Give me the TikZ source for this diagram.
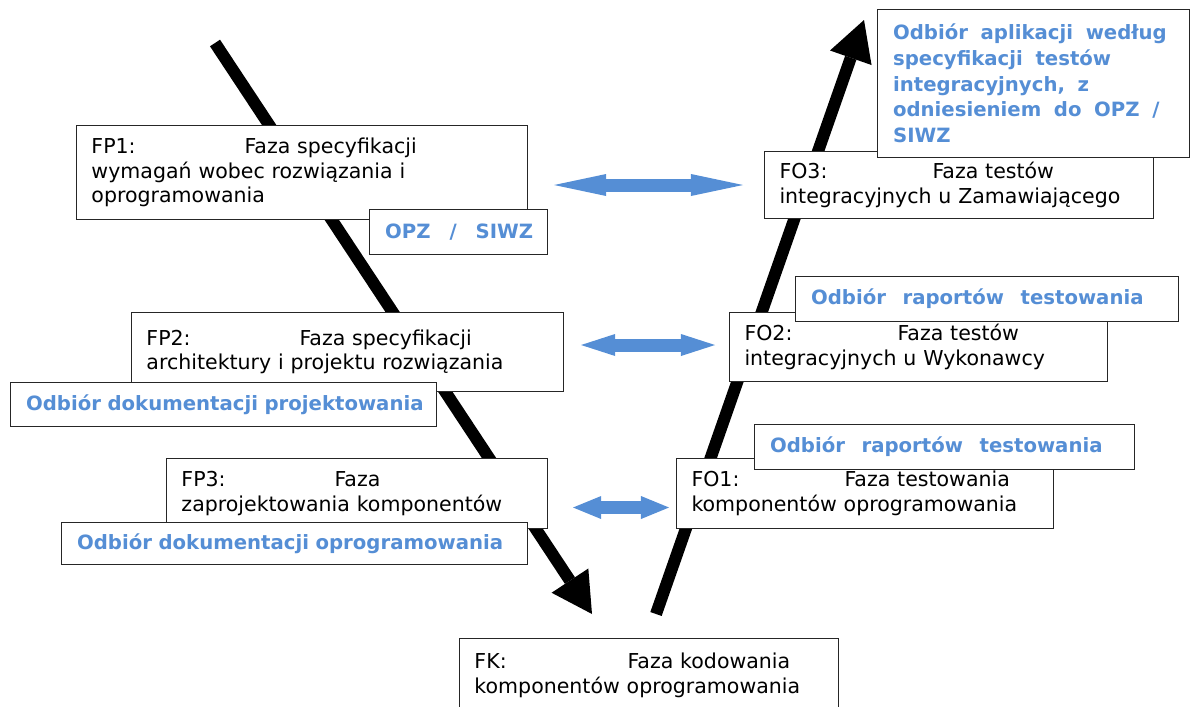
\documentclass[tikz,border=0pt]{standalone}
\usepackage{fontspec}
\setmainfont{DejaVu Sans}
\usetikzlibrary{arrows.meta, positioning}
\definecolor{officeblue}{HTML}{558ED5}
\definecolor{framegrey}{HTML}{262626}
\newcommand{\phasetag}[1]{\makebox[3.825cm][l]{#1}}
\newcommand{\wordgap}[1][11.8pt]{\hspace*{#1}}

\begin{document}
\begin{tikzpicture}[x=0.025cm, y=-0.025cm]
% Define styles
\tikzstyle{phase} = [rectangle, draw=framegrey, line width=0.7pt, fill=white, anchor=north west, align=left, inner xsep=0.375cm, inner ysep=0pt, font=\fontsize{14.6}{17.4}\selectfont]
\tikzstyle{receipt} = [rectangle, draw=framegrey, line width=0.7pt, fill=white, anchor=north west, align=left, inner xsep=0.39cm, inner ysep=0pt, text=officeblue, font=\fontsize{14}{18.3}\selectfont\bfseries]
\tikzstyle{flow} = [line width=0.3cm, -{Triangle[length=1.0cm, width=1.1cm, line width=0pt]}]
\tikzstyle{link} = [draw=officeblue, line width=0.325cm]

\useasboundingbox (0,0) rectangle (1193,706);

% Flow of the V
\coordinate (downstart) at (215,43);
\coordinate (downend) at (592,614);
\coordinate (upstart) at (656,614);
\coordinate (upend) at (864,20);
\draw[flow] (downstart) -- (downend);
\draw[flow] (upstart) -- (upend);

% Phases
\node (fp1) [phase, text width=10.525cm, minimum height=2.35cm] at (76,125) {\phasetag{FP1:}Faza specyfikacji\\wymagań wobec rozwiązania i\\oprogramowania};
\node (fp2) [phase, text width=10.05cm, minimum height=1.975cm] at (131,312) {\phasetag{FP2:}Faza specyfikacji\\architektury i projektu rozwiązania};
\node (fp3) [phase, text width=8.775cm, minimum height=1.75cm] at (166,458) {\phasetag{FP3:}Faza\\zaprojektowania komponentów};
\node (fk) [phase, text width=8.725cm, minimum height=1.85cm] at (459,638) {\phasetag{FK:}Faza kodowania\\komponentów oprogramowania};
\node (fo1) [phase, text width=8.675cm, minimum height=1.75cm] at (676,458) {\phasetag{FO1:}Faza testowania\\komponentów oprogramowania};
\node (fo2) [phase, text width=8.7cm, minimum height=1.725cm] at (729,312) {\phasetag{FO2:}Faza testów\\integracyjnych u Wykonawcy};
\node (fo3) [phase, text width=8.975cm, minimum height=1.675cm] at (764,151) {\phasetag{FO3:}Faza testów\\integracyjnych u Zamawiającego};

% Receipts
\node (opz) [receipt, text width=3.67cm, minimum height=1.125cm] at (369,209) {OPZ\wordgap[13.5pt]/\wordgap[13.5pt]SIWZ};
\node (projdoc) [receipt, text width=9.87cm, minimum height=1.1cm] at (10,382) {\mbox{Odbiór dokumentacji projektowania}};
\node (progdoc) [receipt, text width=10.87cm, minimum height=1.05cm] at (61,522) {Odbiór dokumentacji oprogramowania};
\node (reports1) [receipt, text width=8.72cm, minimum height=1.125cm] at (754,424) {Odbiór\wordgap raportów\wordgap testowania};
\node (reports2) [receipt, text width=8.795cm, minimum height=1.125cm] at (795,276) {Odbiór\wordgap raportów\wordgap testowania};
\node (acceptance) [receipt, text width=7.02cm, minimum height=3.7cm] at (877,9) {Odbiór\wordgap[9pt]aplikacji\wordgap[9pt]według\\specyfikacji\wordgap[9pt]testów\\integracyjnych,\wordgap[9pt]z\\odniesieniem\wordgap[9pt]do\wordgap[9pt]OPZ\wordgap[9pt]/\\SIWZ};

% Links between the two arms
\draw[link, {Triangle[length=1.3cm, width=0.55cm, line width=0pt]}-{Triangle[length=1.3cm, width=0.55cm, line width=0pt]}, shorten <=0.65cm, shorten >=0.525cm] (fp1.east |- fo3.west) -- (fo3.west);
\draw[link, {Triangle[length=0.85cm, width=0.55cm, line width=0pt]}-{Triangle[length=0.85cm, width=0.55cm, line width=0pt]}, shorten <=0.425cm, shorten >=0.35cm] ([yshift=0.05cm]fp2.east |- fo2.west) -- ([yshift=0.05cm]fo2.west);
\draw[link, {Triangle[length=0.7cm, width=0.575cm, line width=0pt]}-{Triangle[length=0.7cm, width=0.575cm, line width=0pt]}, shorten <=0.625cm, shorten >=0.175cm] ([yshift=-0.35cm]fp3.east) -- ([yshift=-0.35cm]fo1.west);

\end{tikzpicture}
\end{document}
